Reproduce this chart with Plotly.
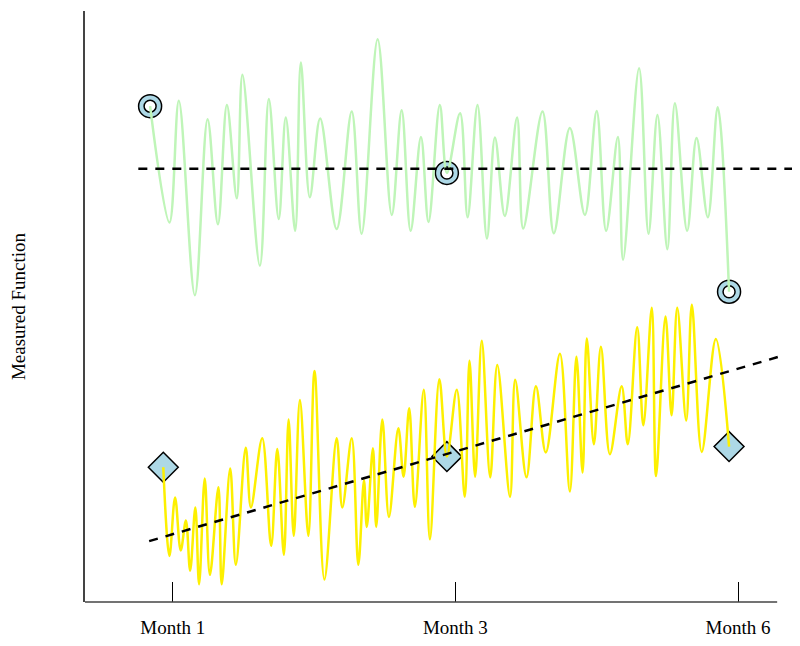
# measured_function.py

import plotly.graph_objects as go

# tick labels on the time axis (days)
tick_days = [30, 90, 150]
tick_labels = ["Month 1", "Month 3", "Month 6"]

# upper series (pale green)
green_days = [25.2, 29.3, 31.3, 34.7, 37.4, 39.6, 41.5, 43.6, 44.8, 48.5,
              50.4, 52.5, 54.0, 56.0, 57.2, 59.1, 61.3, 64.8, 68.0, 70.1,
              73.5, 76.5, 78.6, 80.5, 82.7, 84.3, 86.7, 88.2, 91.0, 92.6,
              94.7, 96.7, 98.4, 100.5, 103.1, 104.4, 108.5, 110.9, 114.3, 117.5,
              120.0, 122.0, 124.5, 125.6, 129.0, 131.0, 132.9, 135.0, 136.6, 139.2,
              141.2, 143.6, 145.7, 148.1]
green_vals = [83.9, 64.2, 84.8, 51.9, 81.7, 63.9, 84.1, 68.3, 89.2, 56.9,
              85.1, 64.8, 82.0, 62.8, 91.3, 68.5, 81.8, 63.1, 83.0, 62.3,
              95.2, 65.5, 83.2, 62.8, 78.7, 64.3, 84.1, 72.6, 82.7, 65.1,
              84.1, 61.5, 78.6, 65.3, 82.0, 63.2, 83.0, 62.4, 80.2, 65.5,
              83.1, 62.8, 78.7, 57.9, 90.3, 62.3, 82.4, 59.7, 84.4, 62.8,
              78.5, 65.1, 83.7, 52.5]
green_marked = [0, 27, 53]

# lower series (yellow)
yellow_days = [28.0, 29.3, 30.5, 31.7, 32.8, 33.7, 34.8, 35.6, 36.8, 37.9,
               39.7, 40.4, 42.2, 43.4, 45.5, 46.6, 49.0, 50.9, 52.2, 53.6,
               54.6, 55.7, 57.0, 58.8, 60.1, 62.2, 64.8, 66.0, 68.0, 69.4,
               70.6, 71.2, 72.5, 73.2, 74.5, 75.9, 77.9, 79.0, 80.2, 81.4,
               83.3, 84.6, 86.6, 88.2, 90.3, 92.0, 93.0, 94.2, 95.6, 97.4,
               98.9, 101.6, 102.7, 105.1, 107.1, 109.2, 112.2, 114.3, 115.7, 117.0,
               117.9, 119.4, 120.9, 122.8, 125.3, 126.6, 128.6, 129.9, 131.7, 132.6,
               134.6, 135.9, 137.1, 139.0, 140.2, 142.3, 145.3, 148.1]
yellow_vals = [22.8, 7.8, 17.7, 8.7, 13.8, 5.3, 16.0, 3.0, 20.9, 4.6,
               19.4, 3.0, 22.6, 6.3, 26.1, 16.0, 27.7, 9.5, 25.9, 8.0,
               30.9, 11.2, 34.2, 11.2, 39.1, 3.8, 27.7, 16.0, 27.7, 6.3,
               20.6, 12.7, 26.0, 12.7, 30.9, 14.4, 29.4, 21.2, 32.8, 16.1,
               35.9, 10.6, 37.7, 24.6, 35.9, 17.8, 40.8, 21.2, 44.2, 21.1,
               40.1, 17.8, 37.6, 21.1, 36.5, 25.3, 42.0, 18.7, 41.5, 21.9,
               44.6, 26.7, 43.2, 25.0, 36.5, 26.7, 46.5, 29.9, 49.8, 21.3,
               48.3, 31.6, 49.8, 30.7, 50.3, 25.4, 44.5, 26.3]
yellow_marked = [0, 43, 77]

# trend lines (end points)
green_trend_days = [22.7, 161.7]
green_trend_vals = [73.3, 73.3]
yellow_trend_days = [25.0, 159.1]
yellow_trend_vals = [10.3, 41.6]

FONT = "Liberation Serif"
GREEN = "#bff5b8"
YELLOW = "#fdf000"
MARKER_FILL = "#add8e6"

fig = go.Figure()

# markers first, the lines are drawn over them
fig.add_trace(go.Scatter(
    x=[green_days[i] for i in green_marked],
    y=[green_vals[i] for i in green_marked],
    mode="markers",
    marker=dict(symbol="circle", size=23, color=MARKER_FILL,
                line=dict(color="black", width=1.5)),
    showlegend=False, hoverinfo="skip"))
fig.add_trace(go.Scatter(
    x=[green_days[i] for i in green_marked],
    y=[green_vals[i] for i in green_marked],
    mode="markers",
    marker=dict(symbol="circle", size=12, color="white",
                line=dict(color="black", width=1.5)),
    showlegend=False, hoverinfo="skip"))
fig.add_trace(go.Scatter(
    x=[yellow_days[i] for i in yellow_marked],
    y=[yellow_vals[i] for i in yellow_marked],
    mode="markers",
    marker=dict(symbol="diamond", size=23, color=MARKER_FILL,
                line=dict(color="black", width=1.5)),
    showlegend=False, hoverinfo="skip"))

fig.add_trace(go.Scatter(x=green_days, y=green_vals, mode="lines",
                         line=dict(color=GREEN, width=2.5, shape="spline"),
                         showlegend=False))
fig.add_trace(go.Scatter(x=yellow_days, y=yellow_vals, mode="lines",
                         line=dict(color=YELLOW, width=2.5, shape="spline"),
                         showlegend=False))

fig.add_trace(go.Scatter(x=green_trend_days, y=green_trend_vals, mode="lines",
                         line=dict(color="black", width=2.5, dash="9px,8px"),
                         showlegend=False))
fig.add_trace(go.Scatter(x=yellow_trend_days, y=yellow_trend_vals, mode="lines",
                         line=dict(color="black", width=2.5, dash="9px,8px"),
                         showlegend=False))

# the page adds an 8px body margin, so the figure is sized to fit inside it
fig.update_layout(
    width=784, height=630,
    margin=dict(l=77, r=0, t=3, b=36),
    paper_bgcolor="white", plot_bgcolor="white",
    font=dict(family=FONT, size=19, color="black"),
    shapes=[dict(type="line", xref="paper", yref="paper",
                 x0=0, x1=0.979, y0=0, y1=0,
                 line=dict(color="#444444", width=1.5))],
)
fig.update_xaxes(
    range=[11.38, 161.46], showline=False, showgrid=False, zeroline=False,
    tickmode="array", tickvals=tick_days, ticktext=tick_labels,
    ticks="inside", ticklen=20, tickwidth=1, tickcolor="black",
    ticklabelstandoff=12,
    tickfont=dict(family=FONT, size=19, color="black"),
)
fig.update_yaxes(
    range=[0, 100], showline=True, linecolor="#444444", linewidth=1.5,
    showgrid=False, zeroline=False, showticklabels=False, ticks="",
    title=dict(text="Measured Function", standoff=55,
               font=dict(family=FONT, size=19, color="black")),
)

fig.write_html("out.html")
